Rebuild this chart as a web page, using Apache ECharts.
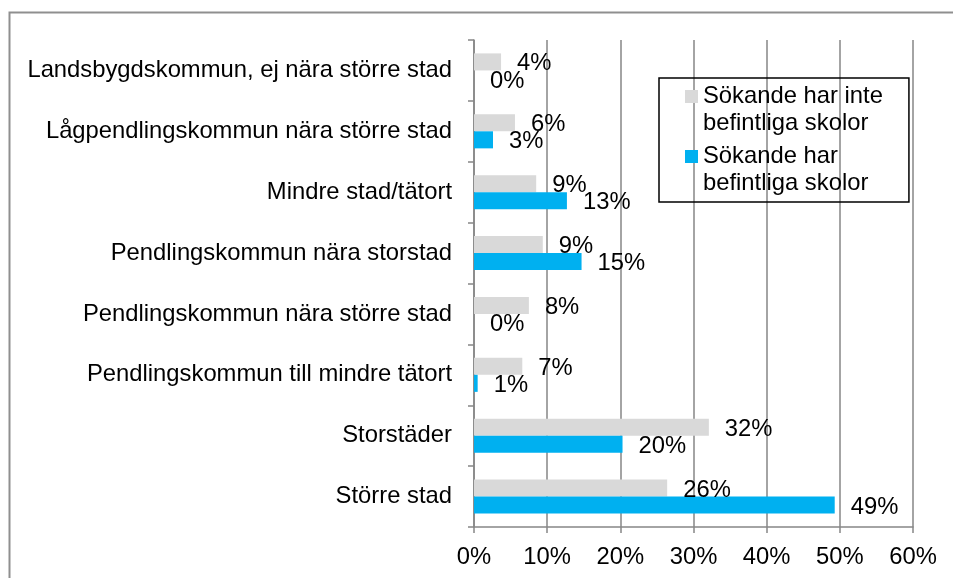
<!doctype html>
<html>
<head>
<meta charset="utf-8">
<style>
    html, body { margin: 0; padding: 0; background: #fff; }
    #chart-panel { width: 953px; height: 578px; }
</style>
<script src="https://cdn.jsdelivr.net/npm/echarts@6/dist/echarts.min.js"></script>
</head>
<body>
<div id="chart-panel"></div>
<script type="text/javascript">
// kategorier, uppifrån och ned
var categories = [
    'Landsbygdskommun, ej nära större stad',
    'Lågpendlingskommun nära större stad',
    'Mindre stad/tätort',
    'Pendlingskommun nära storstad',
    'Pendlingskommun nära större stad',
    'Pendlingskommun till mindre tätort',
    'Storstäder',
    'Större stad'
];
var seriesNames = ['Sökande har inte befintliga skolor', 'Sökande har befintliga skolor'];
// andel i procent
var utanSkolor = [3.7, 5.6, 8.5, 9.4, 7.5, 6.6, 32.1, 26.4];
var medSkolor = [0, 2.6, 12.7, 14.7, 0, 0.5, 20.3, 49.3];
var xTicks = [0, 10, 20, 30, 40, 50, 60];

var fontFam = '"Liberation Sans", Arial, sans-serif';
var fs = 23.8;
var gray = '#868686';

var myChart = echarts.init(document.getElementById('chart-panel'));

function barLabel() {
    return {
        show: true,
        position: 'right',
        distance: 16,
        offset: [0, 2],
        color: '#000',
        fontSize: fs,
        fontFamily: fontFam,
        formatter: function (p) {
            return Math.round(p.value) + '%';
        }
    };
}

var option = {
    animation: false,
    backgroundColor: '#fff',
    textStyle: { fontFamily: fontFam },
    graphic: [{
        type: 'rect',
        left: 7,
        top: 10,
        shape: { width: 980, height: 600 },
        style: { fill: 'none', stroke: '#8f8f8f', lineWidth: 2 },
        silent: true
    }],
    grid: {
        left: 474,
        right: 40,
        top: 40,
        bottom: 51
    },
    legend: {
        orient: 'vertical',
        left: 659,
        top: 78,
        itemWidth: 13,
        itemHeight: 54,
        itemGap: 6,
        padding: [5, 26, 5, 26],
        borderColor: '#000',
        borderWidth: 1.5,
        selectedMode: false,
        icon: 'path://M0,0M0,54M0,7h13v13h-13z',
        data: seriesNames,
        textStyle: {
            fontSize: fs,
            lineHeight: 27,
            color: '#000',
            fontFamily: fontFam
        },
        formatter: function (name) {
            return name.replace(' befintliga', '\nbefintliga');
        }
    },
    xAxis: {
        type: 'value',
        min: xTicks[0],
        max: xTicks[xTicks.length - 1],
        interval: 10,
        axisLine: { show: true, lineStyle: { color: gray, width: 1.5 } },
        axisTick: { show: true, length: 6, lineStyle: { color: gray, width: 1.5 } },
        axisLabel: {
            formatter: '{value}%',
            color: '#000',
            fontSize: fs,
            margin: 18,
            fontFamily: fontFam
        },
        splitLine: { show: true, lineStyle: { color: gray, width: 1.5 } }
    },
    yAxis: {
        type: 'category',
        inverse: true,
        data: categories,
        axisLine: { show: true, lineStyle: { color: gray, width: 1.5 } },
        axisTick: { show: true, length: 6, lineStyle: { color: gray, width: 1.5 } },
        axisLabel: {
            color: '#000',
            fontSize: fs,
            margin: 22,
            interval: 0,
            fontFamily: fontFam
        },
        splitLine: { show: false }
    },
    series: [{
        name: seriesNames[0],
        type: 'bar',
        data: utanSkolor,
        barGap: '0%',
        barCategoryGap: '44%',
        itemStyle: { color: '#d9d9d9' },
        label: barLabel()
    }, {
        name: seriesNames[1],
        type: 'bar',
        data: medSkolor,
        barGap: '0%',
        barCategoryGap: '44%',
        itemStyle: { color: '#00b0f0' },
        label: barLabel()
    }]
};
myChart.setOption(option);
</script>
</body>
</html>
